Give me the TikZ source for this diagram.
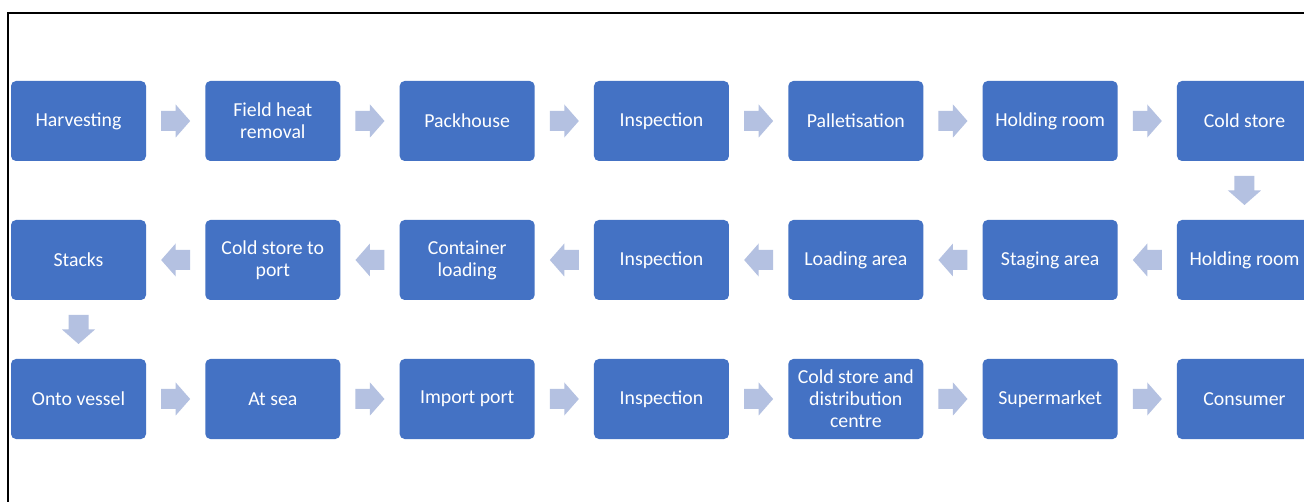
\documentclass[tikz,border=0pt]{standalone}
\usepackage{fontspec}
\setmainfont{Carlito}
\usetikzlibrary{calc}
\definecolor{boxblue}{HTML}{4472C4}
\definecolor{arrowblue}{HTML}{B4C1E1}
\tikzset{
  stepbox/.style={fill=boxblue, rounded corners=5pt, minimum width=135pt, minimum height=80pt,
    text=white, align=center, inner sep=2pt, font=\fontsize{19.8}{22}\selectfont},
  rarrow/.pic={\fill[arrowblue] (-14.5,-10) -- (0,-10) -- (0,-16.5) -- (14.5,0) -- (0,16.5) -- (0,10) -- (-14.5,10) -- cycle;},
  larrow/.pic={\fill[arrowblue] (14.5,-10) -- (0,-10) -- (0,-16.5) -- (-14.5,0) -- (0,16.5) -- (0,10) -- (14.5,10) -- cycle;},
  darrow/.pic={\fill[arrowblue] (-10,-14.5) -- (-10,0) -- (-16.5,0) -- (0,14.5) -- (16.5,0) -- (10,0) -- (10,-14.5) -- cycle;},
  frame/.style={line width=2pt, black}
}
\begin{document}
\begin{tikzpicture}[x=1pt,y=-1pt]
\clip (0,0) rectangle (1304,502);
\fill[white] (0,0) rectangle (1304,502);
\draw[frame] (8,502) -- (8,13) -- (1310,13);
% row 1
\foreach \t [count=\i from 0] in {Harvesting,Field heat\\removal,Packhouse,Inspection,Palletisation,Holding room,Cold store}
  \node[stepbox] (a\i) at (78.5+194.33*\i,121) {\t};
% row 2
\foreach \t [count=\i from 0] in {Stacks,Cold store to\\port,Container\\loading,Inspection,Loading area,Staging area,Holding room}
  \node[stepbox] (b\i) at (78.5+194.33*\i,260) {\t};
% row 3
\foreach \t [count=\i from 0] in {Onto vessel,At sea,Import port,Inspection,Cold store and\\distribution\\centre,Supermarket,Consumer}
  \node[stepbox] (c\i) at (78.5+194.33*\i,399) {\t};
% arrows
\foreach \i [evaluate=\i as \j using int(\i+1)] in {0,...,5} {
  \pic at ($(a\i.east)!0.5!(a\j.west)$) {rarrow};
  \pic at ($(b\i.east)!0.5!(b\j.west)$) {larrow};
  \pic at ($(c\i.east)!0.5!(c\j.west)$) {rarrow};
}
\pic at ($(a6.south)!0.5!(b6.north)$) {darrow};
\pic at ($(b0.south)!0.5!(c0.north)$) {darrow};
\end{tikzpicture}
\end{document}
